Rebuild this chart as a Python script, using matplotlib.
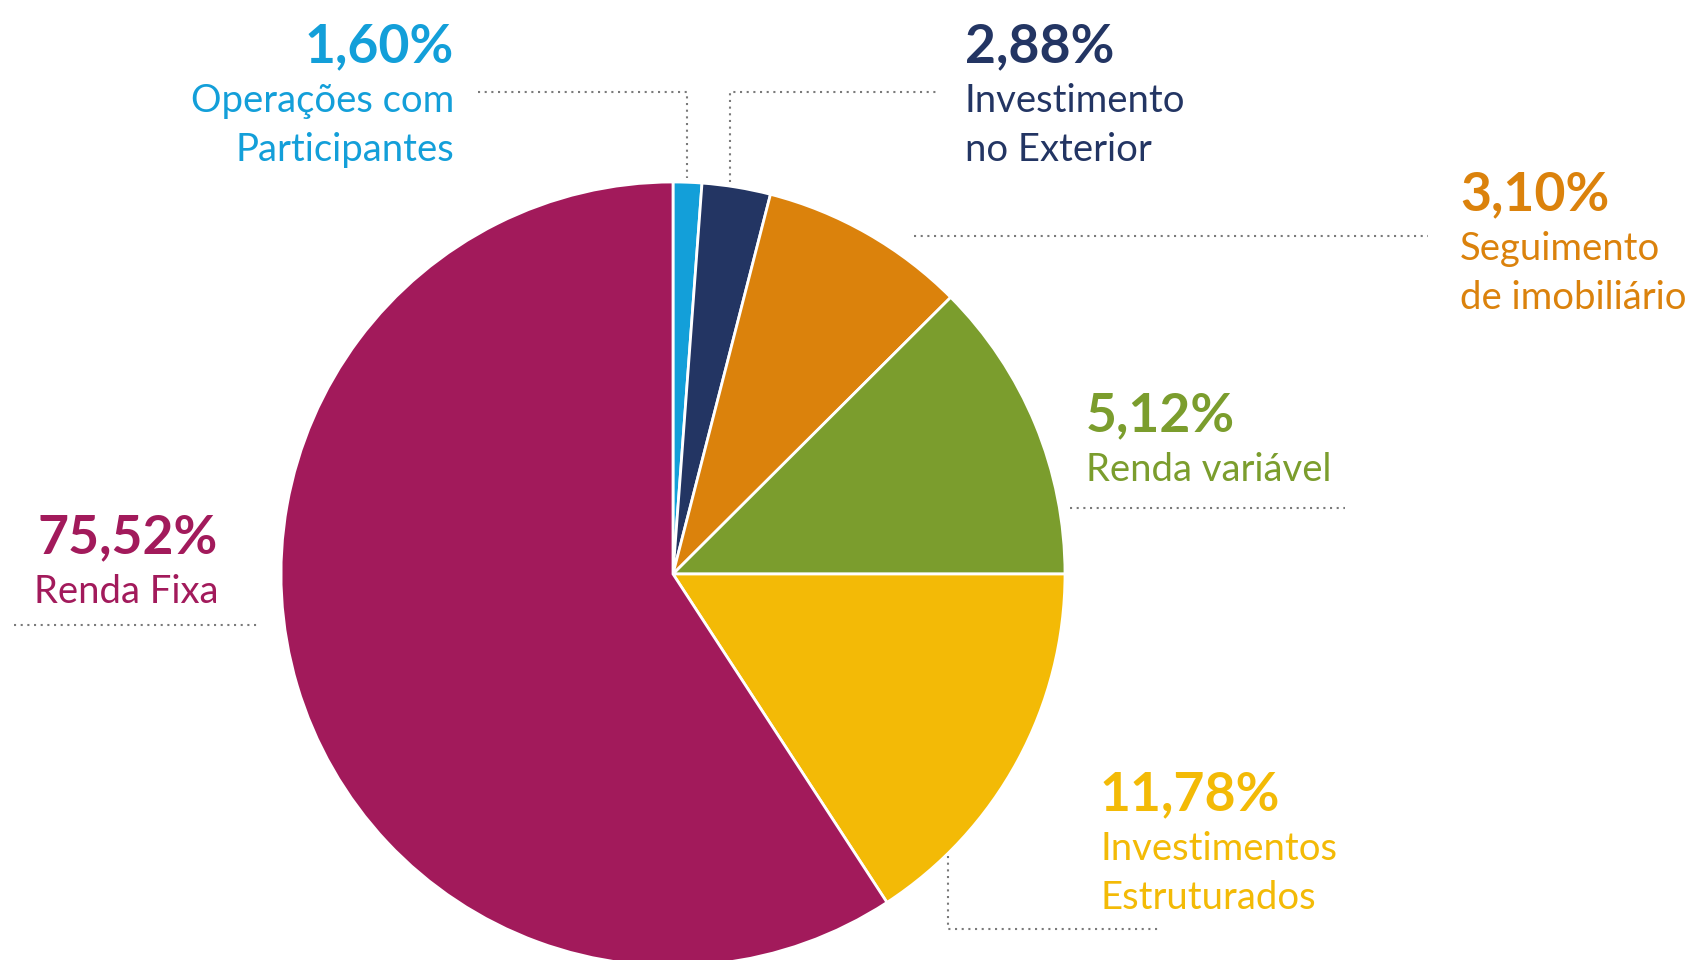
import matplotlib.pyplot as plt

# --- Données ---
categories = ['Operações com\nParticipantes', 'Investimento\nno Exterior',
              'Seguimento\nde imobiliário', 'Renda variável',
              'Investimentos\nEstruturados', 'Renda Fixa']
pct_labels = ['1,60%', '2,88%', '3,10%', '5,12%', '11,78%', '75,52%']
# parts telles que dessinées dans le camembert
slice_sizes = [1.18, 2.82, 8.53, 12.47, 15.81, 59.19]
colors = ['#139FD9', '#233563', '#DB820C', '#7B9D2D', '#F3BA06', '#A21A5B']

W, H = 1691, 960
FONT = 'Lato'
DOT = dict(color='#7a7a7a', linewidth=1.5, linestyle=(0, (1, 2.2)))

fig = plt.figure(figsize=(W / 100, H / 100), dpi=100)
ax = fig.add_axes([0, 0, 1, 1])

ax.pie(slice_sizes, colors=colors, startangle=90, counterclock=False,
       center=(673, H - 574), radius=392,
       wedgeprops=dict(edgecolor='white', linewidth=2))
ax.set_xlim(0, W)
ax.set_ylim(0, H)
ax.set_aspect('equal')
ax.axis('off')


def label(i, x, y_pct, ha):
    """Pourcentage en gras + libellé, y en pixels depuis le haut"""
    ax.text(x, H - y_pct, pct_labels[i], color=colors[i], fontsize=38.5,
            fontweight='bold', family=FONT, ha=ha, va='baseline')
    for k, line in enumerate(categories[i].split('\n')):
        ax.text(x, H - (y_pct + 50 + 49 * k), line, color=colors[i],
                fontsize=27.5, fontweight='normal', family=FONT,
                ha=ha, va='baseline')


def leader(xs, ys):
    ax.plot(xs, [H - y for y in ys], **DOT)


label(0, 454, 62, 'right')
label(1, 965, 62, 'left')
label(2, 1460, 210, 'left')
label(3, 1086, 431, 'left')
label(4, 1100, 810, 'left')
label(5, 218, 553, 'right')

leader([478, 687, 687], [92, 92, 178])
leader([730, 730, 940], [182, 92, 92])
leader([914, 1428], [236, 236])
leader([1070, 1345], [508, 508])
leader([948, 948, 1158], [856, 929, 929])
leader([14, 258], [625, 625])

fig.savefig('out.png', dpi=100)
